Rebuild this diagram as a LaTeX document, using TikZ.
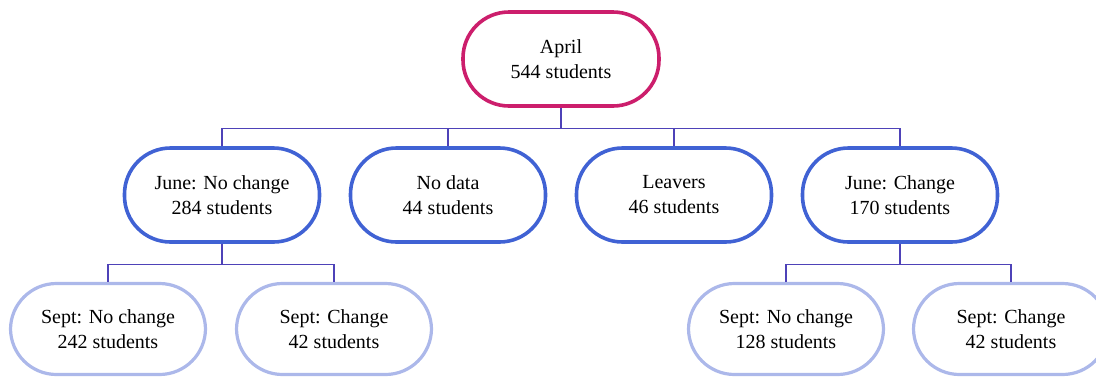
\documentclass[tikz,border=0pt]{standalone}
\usepackage{fontspec}
\setmainfont{Liberation Serif}
\usetikzlibrary{positioning}

\definecolor{topred}{RGB}{204,30,108}
\definecolor{midblue}{RGB}{64,98,212}
\definecolor{lowblue}{RGB}{172,184,234}
\definecolor{linkblue}{RGB}{78,66,184}

\tikzset{
  pill/.style={draw, line width=3.6pt, fill=white, rounded corners=46pt,
    minimum width=195pt, minimum height=94pt, align=center,
    font=\fontsize{20}{25}\selectfont, inner sep=0pt},
  toppill/.style={pill, draw=topred, minimum width=196pt, minimum height=94pt},
  midpill/.style={pill, draw=midblue},
  lowpill/.style={pill, draw=lowblue, line width=3.2pt, minimum height=91pt},
  link/.style={draw=linkblue, line width=1.3pt}
}

\begin{document}
\begin{tikzpicture}[x=1pt,y=-1pt]
  \useasboundingbox (0,0) rectangle (1096,376);

  % top node
  \node[toppill] (april) at (561,59) {April\\544 students};

  % june
  \node[midpill] (junenc)  at (222,195) {June: No change\\284 students};
  \node[midpill] (nodata)  at (448,195) {No data\\44 students};
  \node[midpill] (leavers) at (674,195) {Leavers\\46 students};
  \node[midpill] (junech)  at (900,195) {June: Change\\170 students};

  % september
  \node[lowpill] (septnc1) at (108,329) {Sept: No change\\242 students};
  \node[lowpill] (septch1) at (334,329) {Sept: Change\\42 students};
  \node[lowpill] (septnc2) at (786,329) {Sept: No change\\128 students};
  \node[lowpill] (septch2) at (1011,329) {Sept: Change\\42 students};

  % connectors
  \foreach \c in {junenc,nodata,leavers,junech}
    \draw[link] (april.south) -- ++(0,21) -| (\c.north);
  \foreach \c in {septnc1,septch1}
    \draw[link] (junenc.south) -- ++(0,21) -| (\c.north);
  \foreach \c in {septnc2,septch2}
    \draw[link] (junech.south) -- ++(0,21) -| (\c.north);

\end{tikzpicture}
\end{document}
